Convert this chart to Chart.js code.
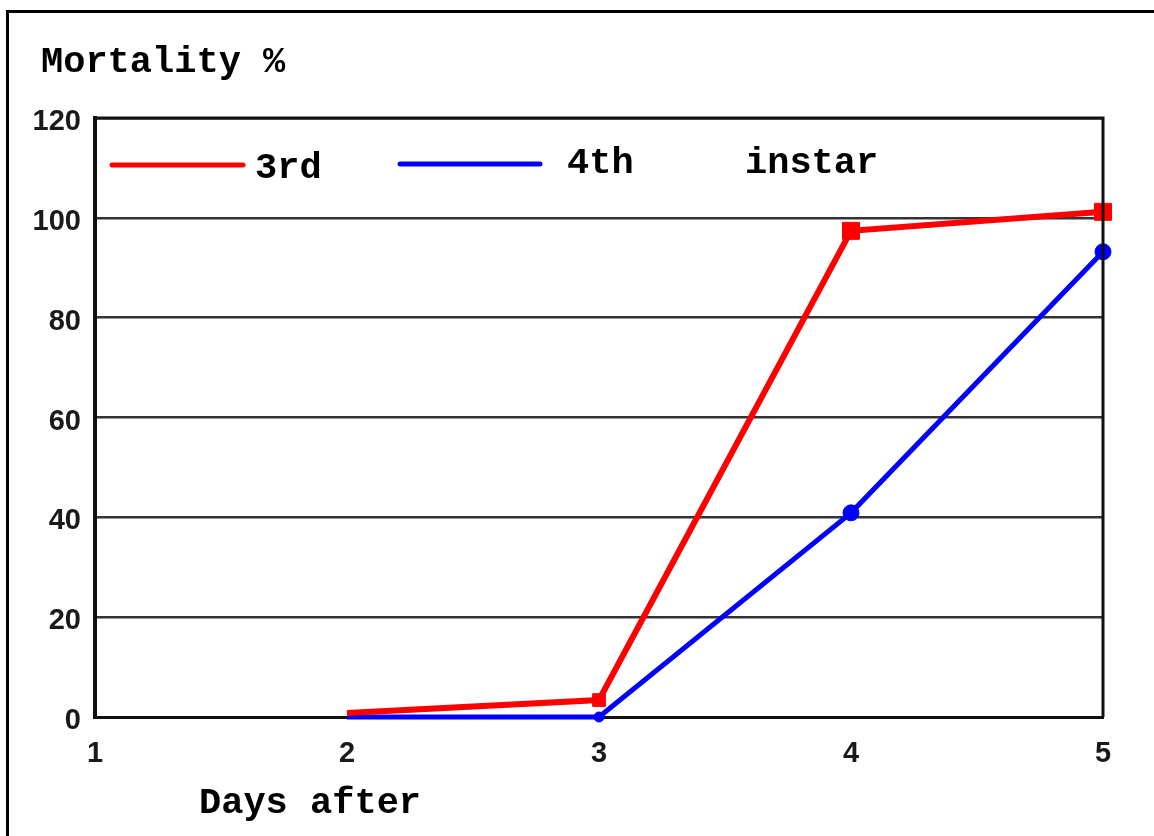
<!DOCTYPE html>
<html>
<head>
<meta charset="utf-8">
<script src="https://cdn.jsdelivr.net/npm/chart.js@4.4.1/dist/chart.umd.min.js"></script>
<style>
    html, body { margin: 0; padding: 0; background: #fff; }
    #frame { position: absolute; left: 6px; top: 10px; width: 1160px; height: 840px;
             border-left: 3px solid #000; border-top: 3px solid #000; }
    #wrap { position: absolute; left: 0; top: 0; width: 1154px; height: 836px; }
</style>
</head>
<body>
<div id="frame"></div>
<div id="wrap"><canvas id="mortalityChart" width="1154" height="836"></canvas></div>
<script>
const days = [2, 3, 4, 5];
const xTicks = [1, 2, 3, 4, 5];
const yTicks = [0, 20, 40, 60, 80, 100, 120];
const thirdInstar = [0.8, 3.4, 97.4, 101.2];
const fourthInstar = [0, 0, 40.9, 93.2];
const seriesNames = ["3rd", "4th"];
const legendSuffix = "instar";
const yTitle = "Mortality %";
const xTitle = "Days after";

const monoFont = "bold 37px 'Liberation Mono', 'DejaVu Sans Mono', monospace";
const tickFont = { family: "'Liberation Sans', Arial, sans-serif", weight: "bold", size: 29 };

// title, axis caption, frame and the hand-placed legend
const decorations = {
    id: "decorations",
    afterDraw(chart) {
        const { ctx, chartArea } = chart;
        ctx.save();

        ctx.strokeStyle = "#111";
        ctx.lineWidth = 3;
        ctx.beginPath();
        ctx.moveTo(chartArea.left, chartArea.top);
        ctx.lineTo(chartArea.right, chartArea.top);
        ctx.lineTo(chartArea.right, chartArea.bottom);
        ctx.stroke();

        ctx.fillStyle = "#000";
        ctx.font = monoFont;
        ctx.textBaseline = "alphabetic";
        ctx.fillText(yTitle, 41, 72);
        ctx.fillText(xTitle, 199, 813);

        const sets = chart.data.datasets;
        const legendItems = [
            { line: [112, 243, 165], text: [255, 178] },
            { line: [400, 540, 164], text: [567, 173] }
        ];
        legendItems.forEach((item, i) => {
            ctx.strokeStyle = sets[i].borderColor;
            ctx.lineWidth = 5;
            ctx.lineCap = "round";
            ctx.beginPath();
            ctx.moveTo(item.line[0], item.line[2]);
            ctx.lineTo(item.line[1], item.line[2]);
            ctx.stroke();
            ctx.fillText(sets[i].label, item.text[0], item.text[1]);
        });
        ctx.fillText(legendSuffix, 745, 173);
        ctx.restore();
    }
};

new Chart(document.getElementById("mortalityChart"), {
    type: "line",
    data: {
        datasets: [
            {
                label: seriesNames[0],
                data: days.map((d, i) => ({ x: d, y: thirdInstar[i] })),
                borderColor: "#ff0000",
                backgroundColor: "#ff0000",
                borderWidth: 6,
                pointStyle: "rect",
                pointRadius: [0, 9, 12, 12],
                pointBorderWidth: 1,
                tension: 0,
                clip: false
            },
            {
                label: seriesNames[1],
                data: days.map((d, i) => ({ x: d, y: fourthInstar[i] })),
                borderColor: "#0000ff",
                backgroundColor: "#0000ff",
                borderWidth: 5,
                pointStyle: "circle",
                pointRadius: [0, 5, 8, 8],
                pointBorderWidth: 1,
                tension: 0,
                clip: false
            }
        ]
    },
    options: {
        responsive: false,
        animation: false,
        layout: { padding: { top: 118, right: 51, left: 0, bottom: 0 } },
        plugins: { legend: { display: false }, tooltip: { enabled: false } },
        scales: {
            x: {
                type: "linear",
                min: xTicks[0],
                max: xTicks[xTicks.length - 1],
                afterBuildTicks: (scale) => { scale.ticks = xTicks.map(v => ({ value: v })); },
                afterFit: (scale) => { scale.height = 119; },
                grid: { display: false },
                border: { display: true, color: "#111", width: 3 },
                ticks: { color: "#1a1a1a", padding: 12, font: tickFont }
            },
            y: {
                min: yTicks[0],
                max: yTicks[yTicks.length - 1],
                afterBuildTicks: (scale) => { scale.ticks = yTicks.map(v => ({ value: v })); },
                afterFit: (scale) => { scale.width = 95; },
                grid: {
                    color: (c) => (c.tick && (c.tick.value === 0 || c.tick.value === 120)) ? "#111" : "#333",
                    lineWidth: (c) => (c.tick && c.tick.value === 0) ? 3 : 2.5,
                    drawTicks: false
                },
                border: { display: true, color: "#111", width: 4 },
                ticks: { color: "#1a1a1a", padding: 14, labelOffset: 4, font: tickFont }
            }
        }
    },
    plugins: [decorations]
});
</script>
</body>
</html>
